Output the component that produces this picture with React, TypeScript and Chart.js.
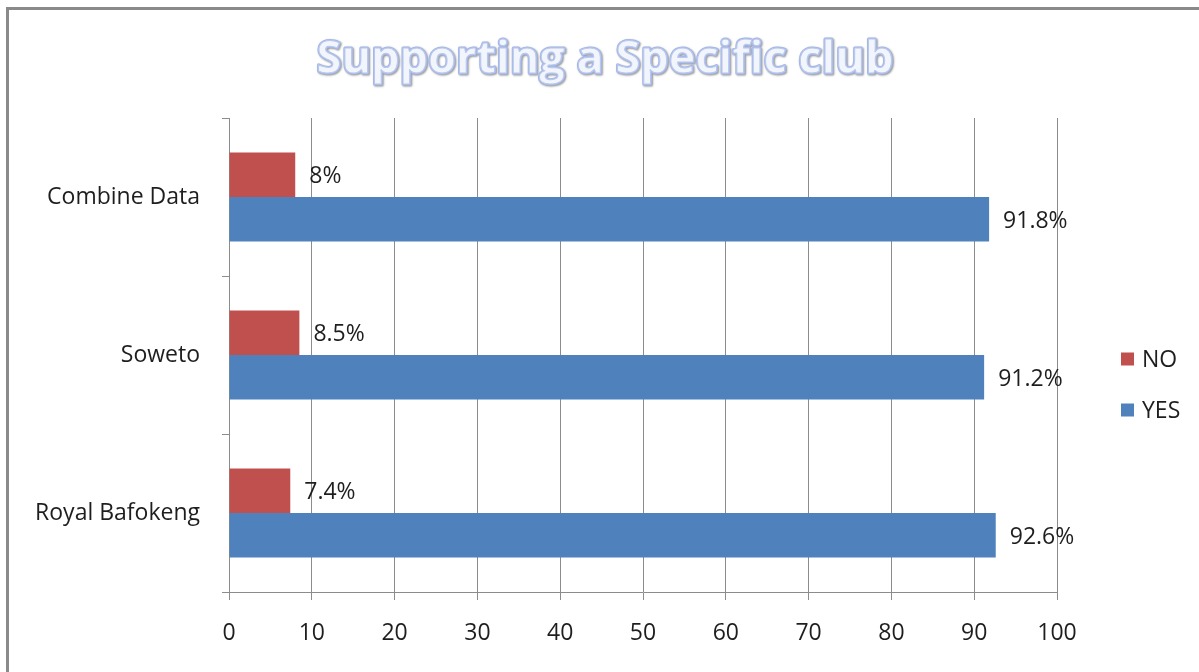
import React, { useEffect, useRef } from "react";
import { Chart, registerables } from "chart.js";

Chart.register(...registerables);

const categories = ["Combine Data", "Soweto", "Royal Bafokeng"];
const noValues = [8, 8.5, 7.4];
const yesValues = [91.8, 91.2, 92.6];
const seriesNames = ["NO", "YES"];
const seriesColors = ["#C0504D", "#4F81BD"];
const titleText = "Supporting a Specific club";

const FONT = "'Open Sans', 'Noto Sans', sans-serif";
const TEXT_COLOR = "#1e1e1e";
const GRID_COLOR = "#8c8c8c";

const titlePlugin = {
  id: "outlinedTitle",
  afterDraw(chart: any) {
    const ctx = chart.ctx;
    ctx.save();
    let size = 46;
    ctx.font = `bold ${size}px ${FONT}`;
    const w = ctx.measureText(titleText).width;
    size = (size * 577) / w;
    ctx.font = `bold ${size}px ${FONT}`;
    ctx.textAlign = "center";
    ctx.textBaseline = "middle";
    const x = 605;
    const y = 60;
    ctx.lineJoin = "round";
    ctx.shadowColor = "rgba(60,60,60,0.55)";
    ctx.shadowBlur = 2;
    ctx.shadowOffsetX = 1;
    ctx.shadowOffsetY = 1;
    ctx.strokeStyle = "#a6b8e6";
    ctx.lineWidth = 3;
    ctx.strokeText(titleText, x, y);
    ctx.shadowColor = "transparent";
    ctx.fillStyle = "#f2f5fc";
    ctx.fillText(titleText, x, y);
    ctx.strokeStyle = "#b8c7ee";
    ctx.lineWidth = 1;
    ctx.strokeText(titleText, x, y);
    ctx.restore();
  },
};

const valueLabelPlugin = {
  id: "valueLabels",
  afterDatasetsDraw(chart: any) {
    const ctx = chart.ctx;
    ctx.save();
    ctx.font = `23px ${FONT}`;
    ctx.fillStyle = TEXT_COLOR;
    ctx.textAlign = "left";
    ctx.textBaseline = "middle";
    chart.data.datasets.forEach((ds: any, di: number) => {
      const meta = chart.getDatasetMeta(di);
      meta.data.forEach((el: any, i: number) => {
        ctx.fillText(`${ds.data[i]}%`, el.x + 14, el.y + 2);
      });
    });
    ctx.restore();
  },
};

const legendPlugin = {
  id: "sideLegend",
  afterDraw(chart: any) {
    const ctx = chart.ctx;
    ctx.save();
    ctx.font = `23px ${FONT}`;
    ctx.textAlign = "left";
    ctx.textBaseline = "middle";
    const startY = 359;
    chart.data.datasets.forEach((ds: any, i: number) => {
      const cy = startY + i * 51;
      ctx.fillStyle = ds.backgroundColor;
      ctx.fillRect(1121, cy - 6.5, 13, 13);
      ctx.fillStyle = TEXT_COLOR;
      ctx.fillText(ds.label, 1142, cy + 1);
    });
    ctx.restore();
  },
};

export default function App() {
  const canvasRef = useRef<HTMLCanvasElement | null>(null);

  useEffect(() => {
    if (!canvasRef.current) return;
    const chart = new Chart(canvasRef.current, {
      type: "bar",
      data: {
        labels: categories,
        datasets: [
          {
            label: seriesNames[0],
            data: noValues,
            backgroundColor: seriesColors[0],
            categoryPercentage: 0.563,
            barPercentage: 1,
          },
          {
            label: seriesNames[1],
            data: yesValues,
            backgroundColor: seriesColors[1],
            categoryPercentage: 0.563,
            barPercentage: 1,
          },
        ],
      },
      options: {
        indexAxis: "y",
        responsive: false,
        animation: false,
        layout: { padding: { top: 118, left: 0, right: 142, bottom: 0 } },
        plugins: {
          legend: { display: false },
          title: { display: false },
          tooltip: { enabled: false },
        },
        scales: {
          x: {
            min: 0,
            max: 100,
            ticks: {
              stepSize: 10,
              color: TEXT_COLOR,
              font: { family: FONT, size: 23 },
              padding: 20,
            },
            grid: {
              color: GRID_COLOR,
              lineWidth: 1,
              tickLength: 8,
              drawOnChartArea: true,
            },
            border: { display: true, color: GRID_COLOR, width: 1 },
            afterFit(scale: any) {
              scale.height = 80;
            },
          },
          y: {
            ticks: {
              color: TEXT_COLOR,
              font: { family: FONT, size: 23 },
              padding: 22,
            },
            grid: {
              offset: true,
              drawOnChartArea: false,
              drawTicks: true,
              tickLength: 7,
              color: GRID_COLOR,
            },
            border: { display: true, color: GRID_COLOR, width: 1 },
            afterFit(scale: any) {
              scale.width = 229;
            },
          },
        },
      },
      plugins: [titlePlugin, valueLabelPlugin, legendPlugin],
    } as any);
    return () => chart.destroy();
  }, []);

  return (
    <div
      style={{
        position: "fixed",
        left: 0,
        top: 0,
        width: 1199,
        height: 672,
        background: "#ffffff",
        overflow: "hidden",
      }}
    >
      <div
        style={{
          position: "absolute",
          left: 6,
          top: 7,
          width: 1400,
          height: 900,
          borderLeft: "3px solid #8a8a8a",
          borderTop: "3px solid #8a8a8a",
        }}
      />
      <canvas
        ref={canvasRef}
        width={1199}
        height={672}
        style={{ position: "absolute", left: 0, top: 0, width: 1199, height: 672 }}
      />
    </div>
  );
}
